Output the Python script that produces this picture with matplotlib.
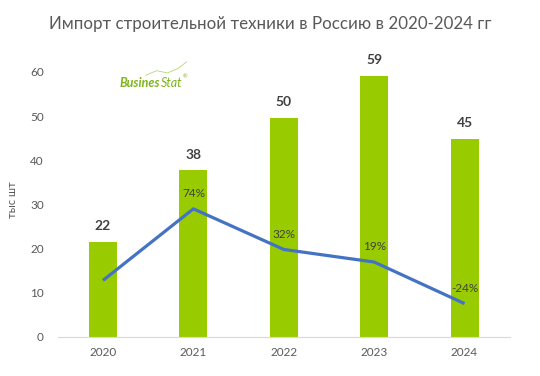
import matplotlib
matplotlib.use("Agg")
import matplotlib.pyplot as plt

years = ["2020", "2021", "2022", "2023", "2024"]
imports = [21.6, 37.7, 49.6, 59.2, 44.9]
growth = [0.0, 74, 32, 19, -24]
growth_labels = ["", "74%", "32%", "19%", "-24%"]

plt.rcParams['font.family'] = ['Lato', 'DejaVu Sans']

fig = plt.figure(figsize=(5.4, 3.76), dpi=100)
ax = fig.add_axes([0.107, 0.104, 0.837, 0.728])
x = list(range(len(years)))
ax.bar(x, imports, width=0.31, color="#99CC00", zorder=2)
for xi, v in zip(x, imports):
    ax.text(xi, v + 2.2, f"{v:.0f}", ha="center", va="bottom", fontsize=10,
            fontweight="bold", color="#404040", clip_on=False)
ax.set_xlim(-0.5, 4.5)
ax.set_ylim(0, 62)
ax.set_yticks([0, 10, 20, 30, 40, 50, 60])
ax.set_xticks(x)
ax.set_xticklabels(years)
for s in ["top", "right", "left"]:
    ax.spines[s].set_visible(False)
ax.spines["bottom"].set_color("#d9d9d9")
ax.tick_params(axis="both", length=0, labelsize=8.5, colors="#595959")
ax.tick_params(axis="y", pad=10)
ax.tick_params(axis="x", pad=7)
ax.set_ylabel("тыс шт", fontsize=8, color="#595959", labelpad=9)

ax2 = ax.twinx()
ax2.set_ylim(-58.4, 224.6)
ax2.plot(x, growth, color="#4472C4", lw=2.3, zorder=3, solid_capstyle="butt")
for xi, g, lab in zip(x, growth, growth_labels):
    if lab:
        ax2.annotate(lab, (xi, g), xytext=(0, 7), textcoords="offset points",
                     ha="center", va="bottom", fontsize=8.5, color="#404040")
ax2.axis("off")

fig.text(0.5, 0.935, "Импорт строительной техники в Россию в 2020-2024 гг",
         ha="center", va="center", fontsize=12.2, color="#595959")

# logo
t1 = fig.text(0.222, 0.78, "Busines", ha="left", va="center", fontsize=9,
              fontweight="bold", style="italic", color="#7CB518")
fig.canvas.draw()
bb = t1.get_window_extent().transformed(fig.transFigure.inverted())
t2 = fig.text(bb.x1, 0.78, "Stat", ha="left", va="center", fontsize=9,
              style="italic", color="#7CB518")
fig.canvas.draw()
bb2 = t2.get_window_extent().transformed(fig.transFigure.inverted())
fig.text(bb2.x1 + 0.002, 0.795, "®", ha="left", va="center", fontsize=4,
         color="#7CB518")
fig.add_artist(plt.Line2D([0.27, 0.29, 0.31, 0.33, 0.345], [0.80, 0.812, 0.806, 0.818, 0.835],
                          transform=fig.transFigure, color="#B5D67A", lw=0.6))

fig.savefig("out.png", dpi=100)
